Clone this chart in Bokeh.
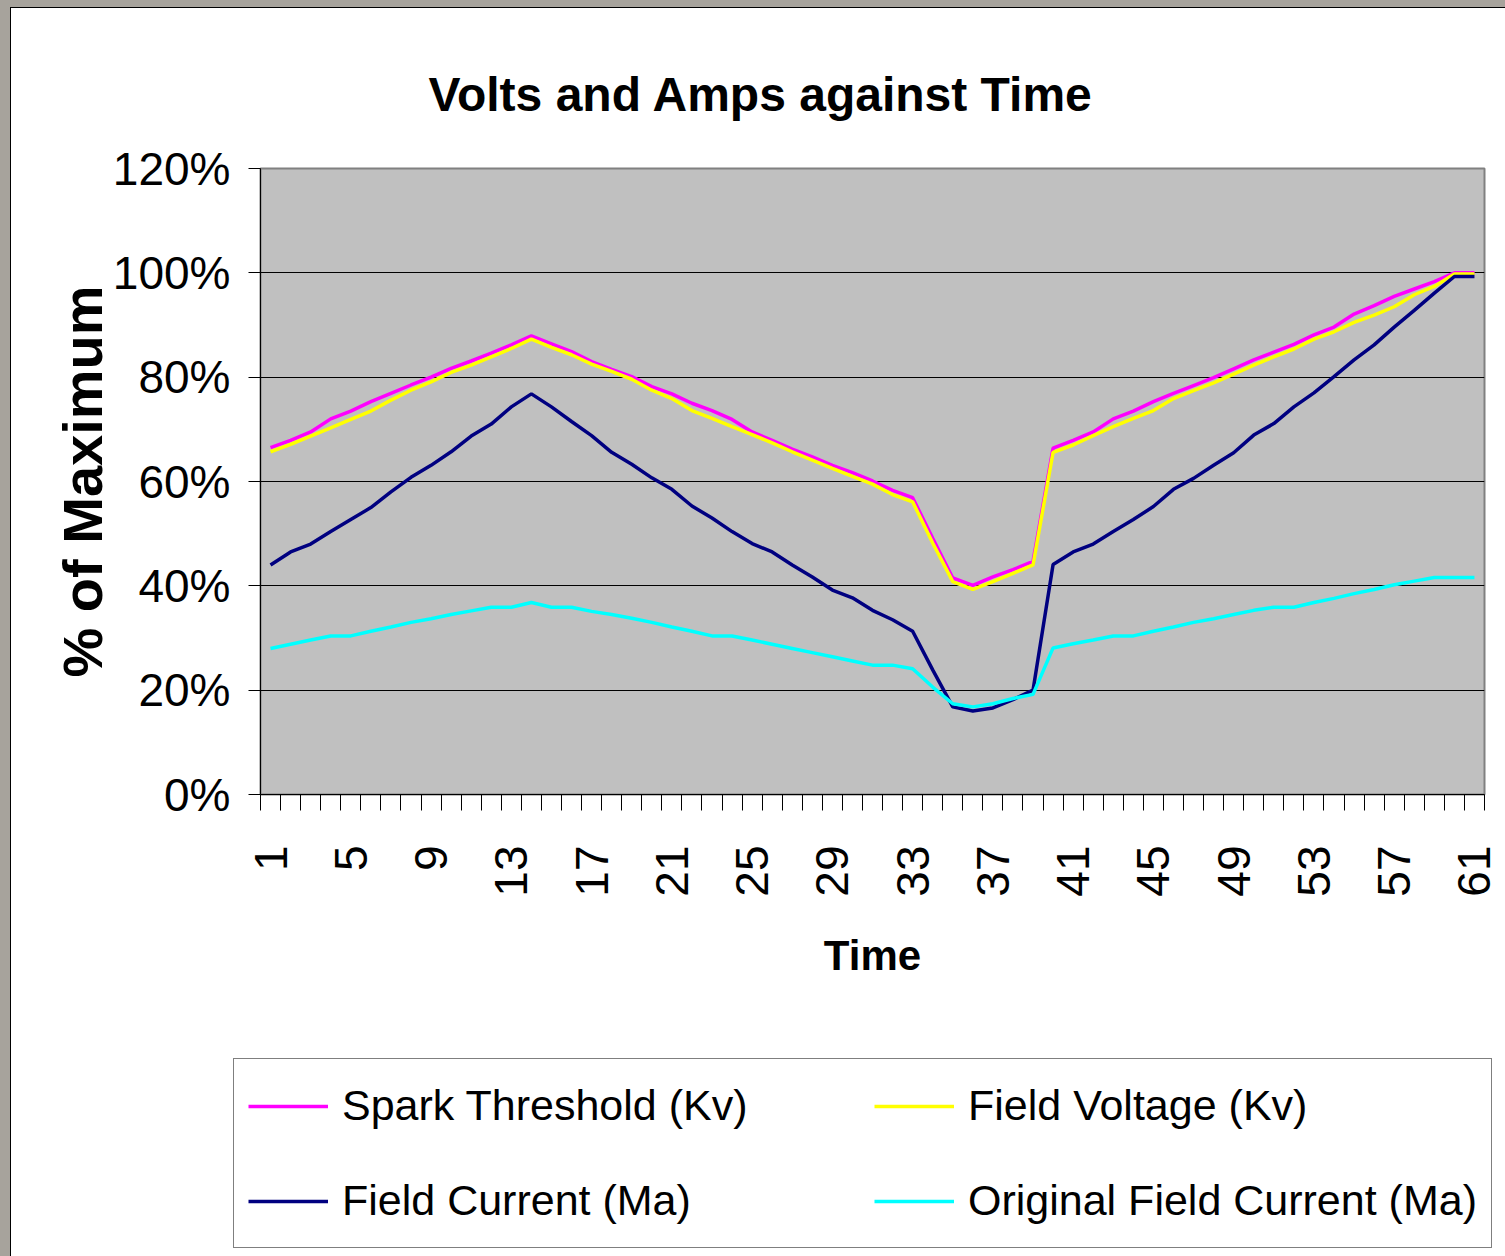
import math
from bokeh.plotting import figure
from bokeh.layouts import column
from bokeh.models import Range1d, FixedTicker, PrintfTickFormatter, Legend, LegendItem
from bokeh.embed import file_html
from bokeh.resources import INLINE

# ---- data (percent of maximum) ----
time = list(range(1, 62))

spark = [66.5, 67.9, 69.5, 72.0, 73.5, 75.3, 76.9, 78.5, 80.0, 81.7,
         83.1, 84.6, 86.2, 87.9, 86.4, 84.9, 83.0, 81.5, 80.1, 78.2,
         76.8, 75.0, 73.6, 71.9, 69.5, 67.9, 66.2, 64.7, 63.1, 61.7,
         60.1, 58.3, 56.9, 49.1, 41.5, 40.1, 41.7, 43.1, 44.7, 66.4,
         67.9, 69.5, 72.0, 73.5, 75.3, 76.9, 78.4, 79.9, 81.6, 83.3,
         84.8, 86.3, 88.1, 89.6, 92.1, 93.7, 95.5, 96.9, 98.3, 100.0,
         100.0]

voltage = [65.7, 67.1, 68.7, 70.3, 71.9, 73.5, 75.6, 77.5, 79.1, 80.9,
           82.3, 83.9, 85.5, 87.3, 85.7, 84.3, 82.5, 81.1, 79.6, 77.5,
           75.9, 73.6, 72.1, 70.5, 69.0, 67.4, 65.7, 64.1, 62.5, 61.0,
           59.5, 57.5, 56.1, 48.2, 40.8, 39.3, 40.8, 42.4, 44.0, 65.6,
           67.0, 68.8, 70.5, 72.1, 73.6, 75.9, 77.4, 78.9, 80.6, 82.3,
           83.9, 85.4, 87.3, 88.7, 90.5, 91.9, 93.5, 95.8, 97.4, 99.8,
           99.8]

current = [44.0, 46.5, 48.0, 50.4, 52.7, 55.0, 58.0, 60.8, 63.1, 65.7,
           68.7, 71.0, 74.3, 76.8, 74.3, 71.5, 68.8, 65.6, 63.3, 60.7,
           58.5, 55.3, 53.0, 50.4, 48.1, 46.5, 44.0, 41.7, 39.2, 37.7,
           35.3, 33.5, 31.3, 23.9, 16.8, 16.0, 16.6, 18.2, 20.0, 44.1,
           46.5, 48.0, 50.4, 52.7, 55.2, 58.5, 60.6, 63.1, 65.5, 68.9,
           71.1, 74.3, 77.0, 80.1, 83.3, 86.2, 89.6, 92.8, 96.1, 99.3,
           99.3]

orig_current = [28.0, 28.8, 29.6, 30.4, 30.4, 31.3, 32.1, 33.0, 33.7, 34.5,
                35.2, 35.9, 35.9, 36.8, 35.9, 35.9, 35.1, 34.5, 33.8, 33.0,
                32.1, 31.3, 30.4, 30.4, 29.6, 28.8, 28.0, 27.2, 26.4, 25.6,
                24.8, 24.8, 24.1, 20.6, 17.4, 16.8, 17.4, 18.4, 19.2, 28.1,
                28.9, 29.6, 30.4, 30.4, 31.3, 32.1, 33.0, 33.7, 34.5, 35.3,
                35.9, 35.9, 36.8, 37.6, 38.5, 39.3, 40.2, 40.9, 41.6, 41.6,
                41.6]

series_names = ["Spark Threshold (Kv)", "Field Voltage (Kv)",
                "Field Current (Ma)", "Original Field Current (Ma)"]
series_colors = ["#FF00FF", "#FFFF00", "#000080", "#00FFFF"]

y_ticks = [0, 20, 40, 60, 80, 100, 120]
x_label_ticks = list(range(1, 62, 4))

FONT = "Liberation Sans"
data = [spark, voltage, current, orig_current]

# page frame: grey strip at top/left plus a thin black edge, like the original window
PAD_TOP, PAD_LEFT = 7, 10
OFF_TOP, OFF_LEFT = PAD_TOP + 1, PAD_LEFT + 1
W = 1505 - OFF_LEFT

# ---------------- main chart ----------------
p = figure(width=W, height=1046 - OFF_TOP, output_backend="svg", toolbar_location=None,
           x_range=Range1d(0.5, 61.5), y_range=Range1d(0, 120),
           min_border_left=260 - OFF_LEFT, min_border_right=21,
           min_border_top=168 - OFF_TOP, min_border_bottom=252)
p.frame_align = False

p.background_fill_color = "#C0C0C0"
p.border_fill_color = "white"
p.outline_line_color = "#808080"
p.outline_line_width = 2

p.title.text = "Volts and Amps against Time"
p.title.text_font = FONT
p.title.text_font_style = "bold"
p.title.text_font_size = "48px"
p.title.text_color = "black"
p.title.align = "left"
p.title.offset = 168
p.title.standoff = 96

p.xgrid.visible = False
p.ygrid.ticker = FixedTicker(ticks=y_ticks)
p.ygrid.grid_line_color = "black"
p.ygrid.grid_line_width = 1

ya = p.yaxis[0]
ya.ticker = FixedTicker(ticks=y_ticks)
ya.formatter = PrintfTickFormatter(format="%d%%")
ya.major_tick_out = 12
ya.major_tick_in = 0
ya.minor_tick_line_color = None
ya.major_tick_line_color = "black"
ya.axis_line_color = "black"
ya.major_label_standoff = 18
ya.major_label_text_font = FONT
ya.major_label_text_font_size = "46px"
ya.major_label_text_color = "black"
ya.axis_label = "% of Maximum"
ya.axis_label_text_font = FONT
ya.axis_label_text_font_style = "bold"
ya.axis_label_text_font_size = "56px"
ya.axis_label_text_color = "black"
ya.axis_label_standoff = -4

boundaries = [t - 0.5 for t in time] + [time[-1] + 0.5]
xa = p.xaxis[0]
xa.ticker = FixedTicker(ticks=x_label_ticks, minor_ticks=boundaries)
xa.major_tick_line_color = None
xa.major_tick_out = 16
xa.major_tick_in = 0
xa.minor_tick_line_color = "black"
xa.minor_tick_out = 16
xa.minor_tick_in = 0
xa.axis_line_color = "black"
xa.major_label_orientation = math.pi / 2
xa.major_label_standoff = 35
xa.major_label_text_font = FONT
xa.major_label_text_font_size = "46px"
xa.major_label_text_color = "black"
xa.axis_label = "Time"
xa.axis_label_text_font = FONT
xa.axis_label_text_font_style = "bold"
xa.axis_label_text_font_size = "42px"
xa.axis_label_text_color = "black"
xa.axis_label_standoff = 32

for vals, color in zip(data, series_colors):
    p.line(time, vals, line_color=color, line_width=3.5)

# ---------------- legend strip ----------------
q = figure(width=W, height=210, output_backend="svg", toolbar_location=None,
           x_range=Range1d(1000, 1001), y_range=Range1d(1000, 1001),
           min_border=0, min_border_left=0, min_border_right=0,
           min_border_top=0, min_border_bottom=0,
           x_axis_location=None, y_axis_location=None)
q.frame_align = False
q.grid.visible = False
q.outline_line_color = None
q.background_fill_color = "white"
q.border_fill_color = "white"

legend_renderers = [q.line(time, vals, line_color=color, line_width=3.5)
                    for vals, color in zip(data, series_colors)]

legend = Legend(items=[LegendItem(label=n, renderers=[r])
                       for n, r in zip(series_names, legend_renderers)],
                location=(233 - OFF_LEFT, 8), orientation="horizontal", ncols=2, margin=0,
                label_text_font=FONT, label_text_font_size="43px",
                label_text_color="black",
                glyph_width=80, glyph_height=20, label_standoff=14,
                label_width=502, label_height=65, spacing=30, padding=14,
                border_line_color="black", border_line_width=1,
                background_fill_color="white", background_fill_alpha=1.0)
q.add_layout(legend)

inner = column(p, q, spacing=0,
               styles={"background-color": "white",
                       "border-top": "1px solid black",
                       "border-left": "1px solid black"})
layout = column(inner, spacing=0,
                styles={"background-color": "#A7A39C",
                        "padding-top": f"{PAD_TOP}px",
                        "padding-left": f"{PAD_LEFT}px"})
open("out.html", "w").write(file_html(layout, INLINE))
